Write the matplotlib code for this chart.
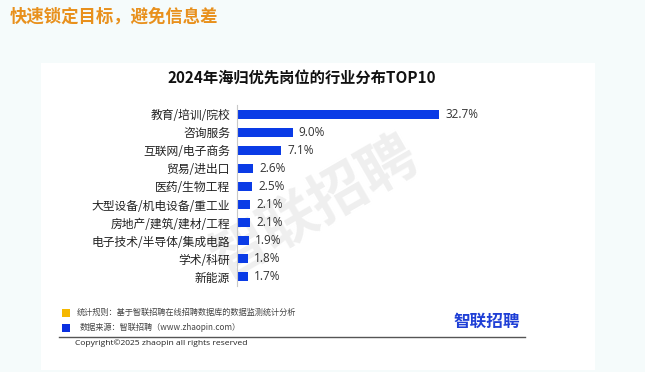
import matplotlib.pyplot as plt
from matplotlib.patches import Rectangle
from matplotlib.lines import Line2D

plt.rcParams['font.family'] = ['Noto Sans CJK SC', 'DejaVu Sans']

categories = ['教育/培训/院校', '咨询服务', '互联网/电子商务', '贸易/进出口', '医药/生物工程',
              '大型设备/机电设备/重工业', '房地产/建筑/建材/工程', '电子技术/半导体/集成电路',
              '学术/科研', '新能源']
values = [32.7, 9.0, 7.1, 2.6, 2.5, 2.1, 2.1, 1.9, 1.8, 1.7]
value_labels = ['32.7%', '9.0%', '7.1%', '2.6%', '2.5%', '2.1%', '2.1%', '1.9%', '1.8%', '1.7%']

W, H = 645, 372
fig = plt.figure(figsize=(W / 100, H / 100), dpi=100)
fig.patch.set_facecolor('#f5fbfb')

# white panel
fig.patches.append(Rectangle((41 / W, 1 - 370 / H), (595 - 41) / W, (370 - 63) / H,
                             transform=fig.transFigure, facecolor='white', edgecolor='none', zorder=-2))

# header
fig.text(10 / W, 1 - 17 / H, '快速锁定目标，避免信息差', color='#e8901c', fontsize=12.5,
         fontweight='bold', va='center', ha='left')

# title
fig.text(302 / W, 1 - 78 / H, '2024年海归优先岗位的行业分布TOP10', color='#111111', fontsize=11,
         fontweight='bold', va='center', ha='center')

# watermark
fig.text(315 / W, 1 - 208 / H, '智联招聘', color='#efefef', fontsize=41, fontweight='bold',
         rotation=30, va='center', ha='center', zorder=-1)

ax = fig.add_axes([237 / W, 1 - 286 / H, (560 - 237) / W, (286 - 105) / H])
ax.set_facecolor('none')
ypos = list(range(len(categories)))
ax.barh(ypos, values, height=0.5, color='#0a3be6')
ax.set_xlim(0, (560 - 237) / 6.18)
ax.set_ylim(len(categories) - 0.5, -0.5)
ax.set_yticks(ypos)
ax.set_yticklabels(categories, fontsize=8.5, color='#222222')
ax.tick_params(axis='y', length=0, pad=5)
ax.set_xticks([])
for s in ['top', 'right', 'bottom']:
    ax.spines[s].set_visible(False)
ax.spines['left'].set_color('#c8c8c8')
ax.spines['left'].set_linewidth(0.8)
for y, v, lab in zip(ypos, values, value_labels):
    ax.text(v + 1.0, y, lab, va='center', ha='left', fontsize=8.5, color='#333333',
            family=['Open Sans', 'DejaVu Sans'])

# footer
fig.patches.append(Rectangle((62 / W, 1 - 317 / H), 8 / W, 8 / H, transform=fig.transFigure,
                             facecolor='#f5b800', edgecolor='none'))
fig.patches.append(Rectangle((62 / W, 1 - 332 / H), 8 / W, 8 / H, transform=fig.transFigure,
                             facecolor='#0a2fe0', edgecolor='none'))
fig.text(77 / W, 1 - 312 / H, '统计规则：基于智联招聘在线招聘数据库的数据监测统计分析', fontsize=5.9,
         color='#444444', va='center', ha='left')
fig.text(80 / W, 1 - 327 / H, '数据来源：智联招聘（www.zhaopin.com）', fontsize=5.9,
         color='#444444', va='center', ha='left')
fig.lines.append(Line2D([59 / W, 525 / W], [1 - 337 / H, 1 - 337 / H], transform=fig.transFigure,
                        color='#555555', linewidth=1.0))
fig.text(75 / W, 1 - 343.5 / H, 'Copyright©2025 zhaopin all rights reserved', fontsize=6.1,
         color='#222222', va='center', ha='left', family=['Open Sans', 'DejaVu Sans'])
fig.text(487 / W, 1 - 322 / H, '智联招聘', fontsize=12, fontweight='bold', color='#1f3fd6',
         va='center', ha='center')

fig.savefig('out.png', dpi=100, facecolor=fig.get_facecolor())
